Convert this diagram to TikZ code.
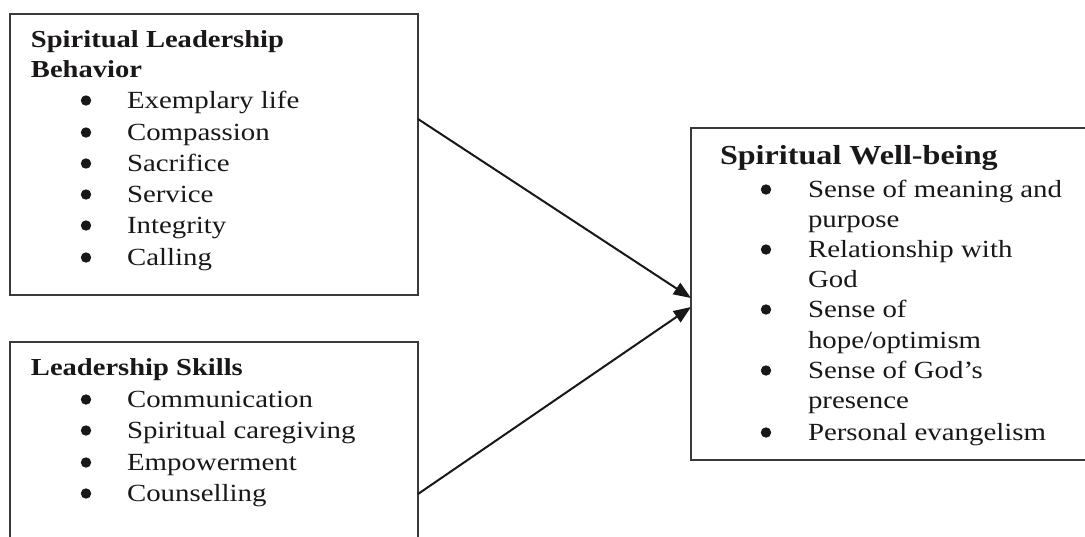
\documentclass[tikz,border=0pt]{standalone}
\usepackage{fontspec}
\usetikzlibrary{arrows.meta,calc}
\setmainfont{Liberation Serif}
\newfontfamily\wideserif[FakeStretch=1.17]{Liberation Serif}
\newcommand\itemfnt{\wideserif\fontsize{18.5pt}{21pt}\selectfont}
\newcommand\ttlfnt{\wideserif\bfseries\fontsize{18.3pt}{21pt}\selectfont}
\newcommand\bigttlfnt{\wideserif\bfseries\fontsize{20.6pt}{23pt}\selectfont}
\definecolor{ink}{HTML}{1A1718}
\definecolor{frame}{HTML}{3A3A3A}
\tikzset{
  box/.style={draw=frame, line width=1.1pt, inner sep=0pt, outer sep=0pt, anchor=north west},
  txt/.style={anchor=base west, inner sep=0pt, outer sep=0pt, font=\itemfnt, text=ink},
  ttl/.style={txt, font=\ttlfnt},
  bigttl/.style={txt, font=\bigttlfnt},
  dot/.style={circle, fill=ink, inner sep=0pt, outer sep=0pt, minimum size=7.8pt},
  link/.style={draw=ink, line width=1.5pt, -{Triangle[length=13pt,width=10pt]}},
}
\begin{document}
\begin{tikzpicture}[x=0.75pt,y=-0.75pt]
\useasboundingbox (0,0) rectangle (1085,536);
\clip (0,0) rectangle (1085,536);
% boxes
\node[box, minimum width=306pt, minimum height=210.75pt] (b1) at (10,14) {};
\node[box, minimum width=306pt, minimum height=152.25pt] (b2) at (10,342) {};
\node[box, minimum width=299.25pt, minimum height=249pt] (b3) at (691,128) {};
% box 1
\node[ttl] (b1h1) at (31,47) {Spiritual Leadership};
\node[ttl] (b1h2) at (31,77) {Behavior};
\foreach \y/\t [count=\i] in {108/{Exemplary life},140/{Compassion},171/{Sacrifice},202/{Service},233/{Integrity},265/{Calling}}{
  \node[dot] (b1d\i) at (86,\y-7.5) {};
  \node[txt] (b1t\i) at (127,\y) {\t};
}
% box 2
\node[ttl] (b2h1) at (31,375) {Leadership Skills};
\foreach \y/\t [count=\i] in {407/{Communication},438/{Spiritual caregiving},470/{Empowerment},501/{Counselling}}{
  \node[dot] (b2d\i) at (86,\y-7.5) {};
  \node[txt] (b2t\i) at (127,\y) {\t};
}
% box 3
\node[bigttl] (b3h1) at (720,164) {Spiritual Well-being};
\foreach \y/\t [count=\i] in {197/{Sense of meaning and},227/{purpose},257/{Relationship with},287/{God},317/{Sense of},348/{hope/optimism},378/{Sense of God’s},408/{presence},440/{Personal evangelism}}{
  \node[txt] (b3t\i) at (808,\y) {\t};
}
\foreach \y [count=\i] in {197,257,317,378,440}{
  \node[dot] (b3d\i) at (766,\y-7.5) {};
}
% connectors
\coordinate (a1s) at ($(b1.north east)+(0,105)$);
\coordinate (a1e) at ($(b3.north west)+(0,170)$);
\coordinate (a2s) at ($(b2.north east)+(0,152)$);
\coordinate (a2e) at ($(b3.north west)+(0,179)$);
\draw[link] (a1s) -- (a1e);
\draw[link] (a2s) -- (a2e);
\end{tikzpicture}
\end{document}
